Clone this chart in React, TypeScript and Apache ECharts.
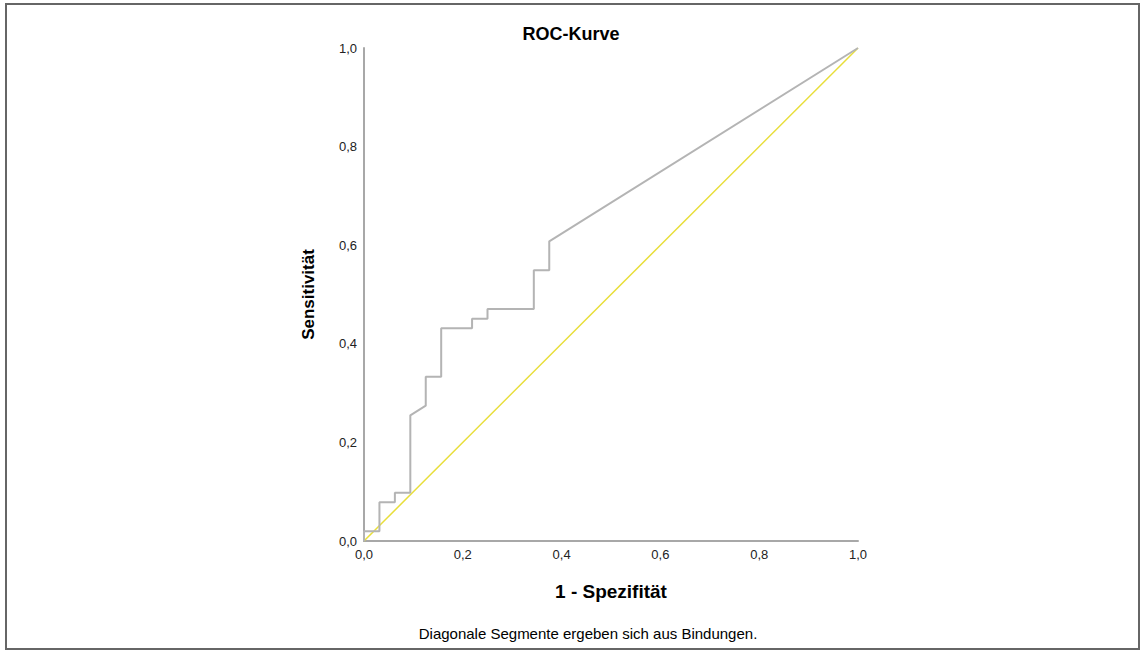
import React, { useEffect, useRef } from "react";
import * as echarts from "echarts";

const rocX = [0, 0, 0.03125, 0.03125, 0.0625, 0.0625, 0.09375, 0.09375, 0.125, 0.125, 0.15625, 0.15625, 0.21875, 0.21875, 0.25, 0.25, 0.34375, 0.34375, 0.375, 0.375, 1];
const rocY = [0, 0.0196, 0.0196, 0.0784, 0.0784, 0.098, 0.098, 0.2549, 0.2745, 0.3333, 0.3333, 0.4314, 0.4314, 0.451, 0.451, 0.4706, 0.4706, 0.549, 0.549, 0.6078, 1];
const diagX = [0, 1];
const diagY = [0, 1];

const fmt = (v: number) => v.toFixed(1).replace(".", ",");

export default function App() {
  const ref = useRef<HTMLDivElement>(null);
  useEffect(() => {
    const chart = echarts.init(ref.current!, null, { renderer: "svg" });
    const font = "'Liberation Sans', Arial, sans-serif";
    chart.setOption({
      animation: false,
      backgroundColor: "#ffffff",
      textStyle: { fontFamily: font },
      title: {
        text: "ROC-Kurve",
        left: 566,
        top: 20,
        textAlign: "center",
        textStyle: { fontSize: 18, fontWeight: "bold", color: "#000", fontFamily: font },
      },
      grid: { left: 364, top: 48, right: 283, bottom: 110 },
      xAxis: {
        type: "value",
        min: 0,
        max: 1,
        interval: 0.2,
        name: "1 - Spezifität",
        nameLocation: "middle",
        nameGap: 41,
        nameTextStyle: { fontSize: 19, fontWeight: "bold", color: "#000", fontFamily: font },
        axisLine: { show: true, lineStyle: { color: "#a8a8a8", width: 2 } },
        axisTick: { show: false },
        splitLine: { show: false },
        axisLabel: { color: "#222", fontSize: 13, margin: 7, formatter: (v: number) => fmt(v), fontFamily: font },
      },
      yAxis: {
        type: "value",
        min: 0,
        max: 1,
        interval: 0.2,
        name: "Sensitivität",
        nameLocation: "middle",
        nameGap: 47,
        nameRotate: 90,
        nameTextStyle: { fontSize: 17, fontWeight: "bold", color: "#000", fontFamily: font },
        axisLine: { show: true, lineStyle: { color: "#a8a8a8", width: 2 } },
        axisTick: { show: false },
        splitLine: { show: false },
        axisLabel: { color: "#222", fontSize: 13, margin: 7, formatter: (v: number) => fmt(v), fontFamily: font },
      },
      series: [
        {
          type: "line",
          data: diagX.map((x, i) => [x, diagY[i]]),
          symbol: "none",
          lineStyle: { color: "#e8de3a", width: 1.5 },
          z: 2,
        },
        {
          type: "line",
          data: rocX.map((x, i) => [x, rocY[i]]),
          symbol: "none",
          lineStyle: { color: "#b4b4b4", width: 2 },
          z: 3,
        },
      ],
      graphic: [
        {
          type: "rect",
          shape: { x: 6, y: 4, width: 1133, height: 645 },
          style: { fill: "none", stroke: "#666", lineWidth: 2 },
          silent: true,
        },
        {
          type: "text",
          x: 588,
          y: 633,
          style: {
            text: "Diagonale Segmente ergeben sich aus Bindungen.",
            fontSize: 15,
            fontFamily: font,
            fill: "#000",
            textAlign: "center",
            textVerticalAlign: "middle",
          },
        },
      ],
    });
    return () => chart.dispose();
  }, []);
  return (
    <div
      ref={ref}
      style={{ position: "fixed", left: 0, top: 0, width: 1141, height: 651 }}
    />
  );
}
